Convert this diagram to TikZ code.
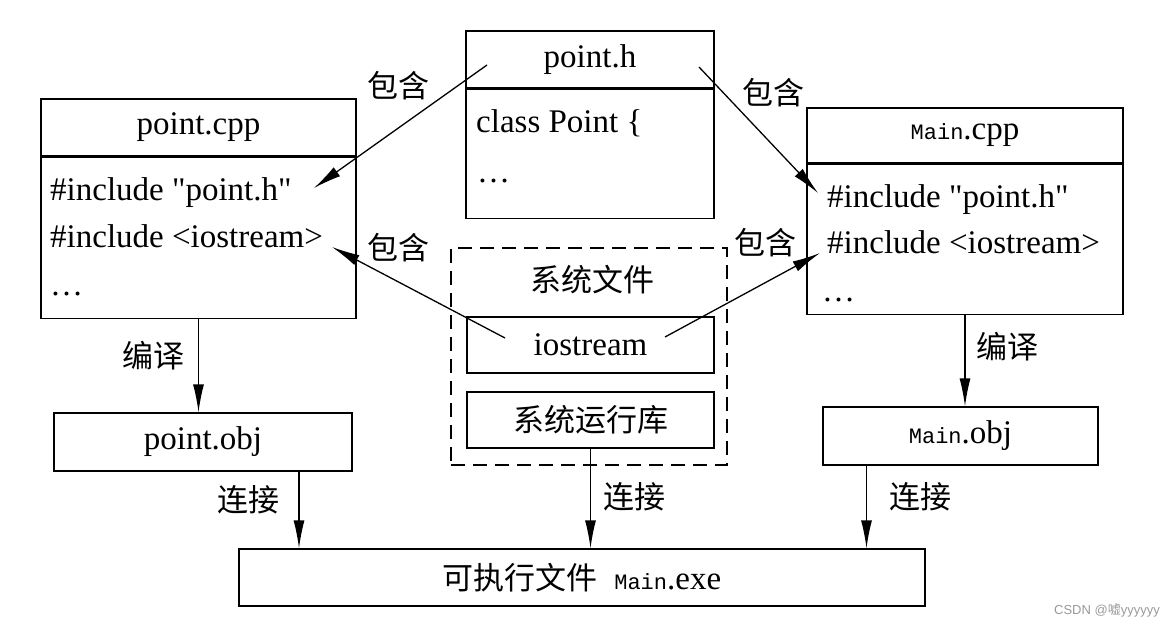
\documentclass[tikz,border=0pt]{standalone}
\usepackage{fontspec}
\setmainfont{Liberation Serif}[Ligatures=TeXOff]
\newfontfamily\cjk{Noto Sans CJK SC}
\newfontfamily\mono{Liberation Mono}
\newfontfamily\wmfont{Liberation Sans}
\usetikzlibrary{arrows.meta,positioning}

\newcommand{\mainname}{{\mono\fontsize{22}{26}\selectfont Main}}

\begin{document}
\begin{tikzpicture}[x=1pt, y=-1pt,
    box/.style={draw, line width=1.3pt, inner sep=0pt, font=\fontsize{33}{38}\selectfont},
    code/.style={anchor=west, inner sep=0pt, font=\fontsize{33}{38}\selectfont},
    word/.style={inner sep=0pt, font=\cjk\fontsize{31}{36}\selectfont},
    inc/.style={line width=1.3pt, -{Latex[length=28pt, width=11pt]}},
    flow/.style={line width=1.3pt, -{Latex[length=28pt, width=11pt]}}]

        \useasboundingbox (0,0) rectangle (1176,626);

        % --- point.h ---
        \node[box, minimum width=248pt, minimum height=57pt] (hhead) at (590,59.5) {point.h};
        \node[box, minimum width=248pt, minimum height=129pt, below=0pt of hhead] (hbody) {};
        \node[code] (hclass) at (476,123) {class Point \{};
        \node[code] (hdots) at (477,181) {\dots};

        % --- point.cpp ---
        \node[box, minimum width=315pt, minimum height=57pt] (cpphead) at (198.5,127.5) {point.cpp};
        \node[box, minimum width=315pt, minimum height=161pt, below=0pt of cpphead] (cppbody) {};
        \node[code] (cppinc1) at (50,193) {\#include "point.h"};
        \node[code] (cppinc2) at (50,236) {\#include <iostream>};
        \node[code] (cppdots) at (50,294) {\dots};

        % --- Main.cpp ---
        \node[box, minimum width=316pt, minimum height=55pt] (mainhead) at (965,135.5) {\mainname.cpp};
        \node[box, minimum width=316pt, minimum height=150pt, below=0pt of mainhead] (mainbody) {};
        \node[code] (maininc1) at (827,200) {\#include "point.h"};
        \node[code] (maininc2) at (827,242) {\#include <iostream>};
        \node[code] (maindots) at (822,300) {\dots};

        % --- system files ---
        \node[draw, dash pattern=on 14pt off 8pt, line width=1.1pt,
              minimum width=276pt, minimum height=217pt] (sysbox) at (589,356.5) {};
        \node[word] (systitle) at (592,280) {系统文件};
        \node[box, minimum width=247pt, minimum height=56pt] (io) at (590.5,345) {iostream};
        \node[box, minimum width=247pt, minimum height=56pt, font=\cjk\fontsize{31}{36}\selectfont]
            (lib) at (590.5,420) {系统运行库};

        % --- object files and executable ---
        \node[box, minimum width=298pt, minimum height=58pt] (cppobj) at (203,442) {point.obj};
        \node[box, minimum width=275pt, minimum height=58pt] (mainobj) at (960.5,436) {\mainname.obj};
        \node[box, minimum width=686pt, minimum height=57pt] (exe) at (582,577.5)
            {{\cjk\fontsize{31}{36}\selectfont 可执行文件}\ \ \mainname.exe};

        % Include arrows
        \coordinate (hout1) at (487,65);
        \coordinate (cppin1) at (314,188);
        \coordinate (hout2) at (699,67);
        \coordinate (mainin1) at (818,193);
        \coordinate (ioout1) at (505,338);
        \coordinate (cppin2) at (332,247);
        \coordinate (ioout2) at (665,337);
        \coordinate (mainin2) at (820,253);

        \draw[inc] (hout1) -- (cppin1);
        \draw[inc] (hout2) -- (mainin1);
        \draw[inc] (ioout1) -- (cppin2);
        \draw[inc] (ioout2) -- (mainin2);

        \node[word] (inc1) at (398,86) {包含};
        \node[word] (inc2) at (773,93) {包含};
        \node[word] (inc3) at (398,248) {包含};
        \node[word] (inc4) at (765,243) {包含};

        % Compile and link arrows
        \coordinate (cppobjout) at ([xshift=96pt]cppobj.south);
        \coordinate (mainobjout) at ([xshift=-94pt]mainobj.south);

        \draw[flow] (cppbody.south) -- (cppbody.south |- cppobj.north);
        \draw[flow] (mainbody.south) -- (mainbody.south |- mainobj.north);
        \draw[flow] (cppobjout) -- (cppobjout |- exe.north);
        \draw[flow] (lib.south) -- (lib.south |- exe.north);
        \draw[flow] (mainobjout) -- (mainobjout |- exe.north);

        \node[word] (comp1) at (153,356) {编译};
        \node[word] (comp2) at (1007,347) {编译};
        \node[word] (link1) at (248,500) {连接};
        \node[word] (link2) at (634,497) {连接};
        \node[word] (link3) at (920,497) {连接};

        \node[anchor=east, inner sep=0pt, text=black!40, font=\wmfont\fontsize{13}{15}\selectfont]
            (mark) at (1160,610) {CSDN @{\cjk 嘘}yyyyyy};

\end{tikzpicture}
\end{document}
